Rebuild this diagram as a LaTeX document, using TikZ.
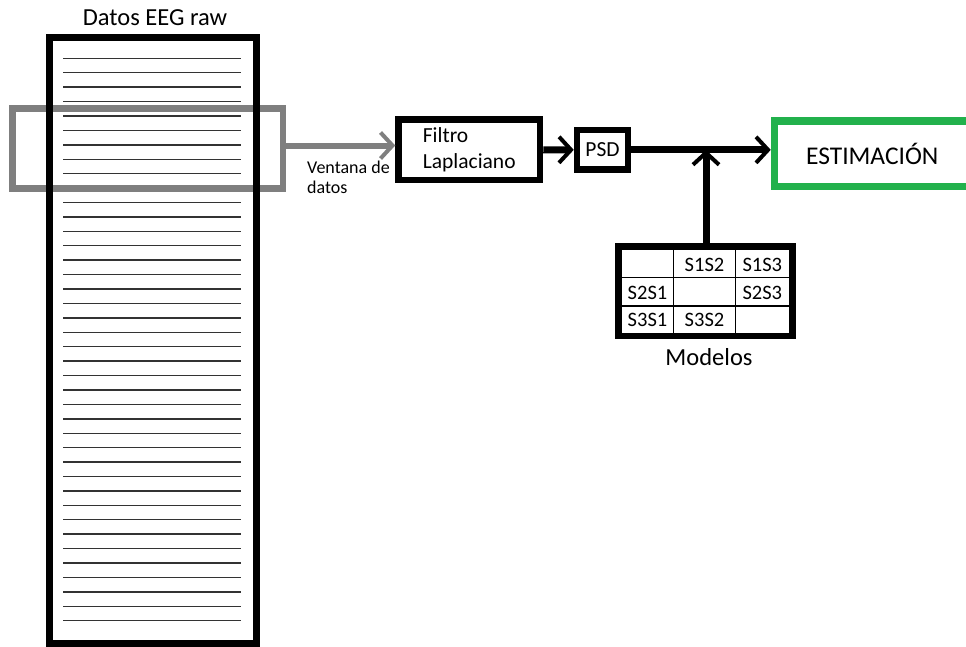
\documentclass[tikz,border=0pt]{standalone}
\usepackage{fontspec}
\setmainfont{Carlito}
\usetikzlibrary{arrows.meta,calc}
\definecolor{wgray}{RGB}{127,127,127}
\definecolor{egreen}{RGB}{34,177,76}
\newcommand{\fs}[1]{\fontsize{#1}{#1}\selectfont}
\tikzset{
  blkbox/.style={draw=black, rectangle, inner sep=0pt, line width=6.5pt},
  barb/.style={-{Straight Barb[length=12pt,width=26pt,line width=4pt]}},
  celltext/.style={inner sep=0pt, font=\fs{20.5}},
  gridline/.style={line width=1.4pt, black},
  dataline/.style={line width=1.4pt, black!80},
}
\begin{document}
\begin{tikzpicture}[x=1pt,y=-1pt]
\useasboundingbox (0,0) rectangle (966,646);
% raw data lines
\foreach \i in {0,...,39}{
  \draw[dataline] (63,{58.3+\i*14.42}) -- (241,{58.3+\i*14.42});
}
% data window
\node[draw=wgray, line width=6.7pt, rectangle, inner sep=0pt,
      minimum width=270.3pt, minimum height=79.8pt] (window) at (147.85,148.4) {};
% EEG data box
\node[blkbox, line width=7pt, minimum width=207.5pt, minimum height=605.5pt] (eeg) at (152.75,340.25) {};
\node[font=\fs{24.5}] (eegtitle) at (155,18) {Datos EEG raw};
% filter
\node[blkbox, minimum width=141.5pt, minimum height=60.5pt, align=left, font=\fs{21.5}] (filter) at (469.25,149.75) {Filtro\\[4pt]Laplaciano};
% PSD
\node[blkbox, minimum width=51pt, minimum height=39.7pt, font=\fs{21.5}] (psd) at (602.5,149.85) {PSD};
% estimation
\node[draw=egreen, rectangle, inner sep=0pt, line width=7.5pt, minimum width=195.5pt, minimum height=65.4pt, font=\fs{25.5}] (est) at (872.25,153.7) {ESTIMACIÓN};
% models table
\node[blkbox, line width=6.7pt, minimum width=174pt, minimum height=89.3pt] (models) at (705.3,291.35) {};
\draw[gridline] (673.3,250) -- (673.3,332.7);
\draw[gridline] (735.7,250) -- (735.7,332.7);
\draw[gridline] (621.7,277.7) -- (789,277.7);
\draw[gridline] (621.7,306) -- (789,306);
\node[celltext] (c12) at (704.5,264.5) {S1S2};
\node[celltext] (c13) at (762.3,264.5) {S1S3};
\node[celltext] (c21) at (647.5,292.5) {S2S1};
\node[celltext] (c23) at (762.3,292.5) {S2S3};
\node[celltext] (c31) at (647.5,320) {S3S1};
\node[celltext] (c32) at (704.5,320) {S3S2};
\node[font=\fs{24.5}] (modlabel) at (709,357) {Modelos};
% window label
\node[font=\fs{18}, align=left, anchor=west, inner sep=0pt] (wlabel) at (307,177) {Ventana de\\[2pt]datos};
% connectors
\draw[barb, draw=wgray, line width=6pt] (window.east |- 0,145.5) -- (filter.west |- 0,145.5);
\draw[barb, line width=7pt] (filter.east) -- (psd.west);
\coordinate (j) at (706,150);
\draw[barb, line width=7pt] (psd.east) -- (psd.east -| est.west);
\draw[barb, line width=7pt] (models.north -| j) -- (j);
\end{tikzpicture}
\end{document}
